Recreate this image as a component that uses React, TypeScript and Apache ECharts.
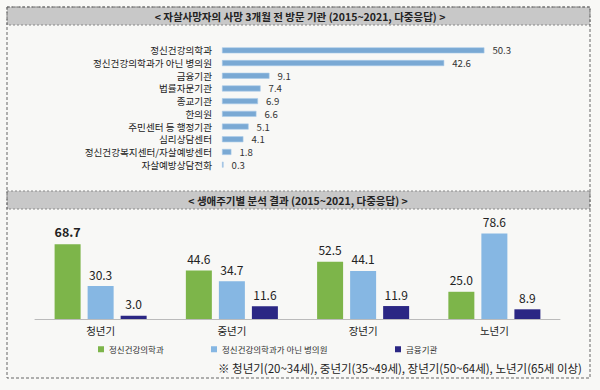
import React, { useEffect, useRef } from "react";
import * as echarts from "echarts";

const topTitle = "< 자살사망자의 사망 3개월 전 방문 기관 (2015~2021, 다중응답) >";
const bottomTitle = "< 생애주기별 분석 결과 (2015~2021, 다중응답) >";
const footnote = "※ 청년기(20~34세), 중년기(35~49세), 장년기(50~64세), 노년기(65세 이상)";

const institutions = [
  "정신건강의학과",
  "정신건강의학과가 아닌 병의원",
  "금융기관",
  "법률자문기관",
  "종교기관",
  "한의원",
  "주민센터 등 행정기관",
  "심리상담센터",
  "정신건강복지센터/자살예방센터",
  "자살예방상담전화",
];
const institutionValues = [50.3, 42.6, 9.1, 7.4, 6.9, 6.6, 5.1, 4.1, 1.8, 0.3];

const lifeStages = ["청년기", "중년기", "장년기", "노년기"];
const seriesNames = ["정신건강의학과", "정신건강의학과가 아닌 병의원", "금융기관"];
const psychiatry = [68.7, 44.6, 52.5, 25.0];
const otherClinics = [30.3, 34.7, 44.1, 78.6];
const financial = [3.0, 11.6, 11.9, 8.9];

const FONT = "'Noto Sans CJK KR', 'Noto Sans', sans-serif";
const colors = ["#7db54a", "#86b7e3", "#2b2784"];

export default function App() {
  const ref = useRef<HTMLDivElement>(null);
  useEffect(() => {
    if (!ref.current) return;
    const chart = echarts.init(ref.current, undefined, { renderer: "svg" });
    const barLabel = {
      show: true,
      position: "top" as const,
      distance: 6,
      color: "#222",
      fontSize: 12,
      fontFamily: FONT,
      formatter: (p: any) => Number(p.value).toFixed(1),
    };
    const withBoldFirst = (arr: number[]) =>
      arr.map((v, i) =>
        i === 0 ? { value: v, label: { fontWeight: "bold", fontSize: 12.5 } } : v
      );
    const legendBase = {
      top: 340,
      itemWidth: 6,
      itemHeight: 6,
      icon: "rect",
      textStyle: { fontSize: 8.5, color: "#333", fontFamily: FONT },
      itemGap: 3,
    };
    chart.setOption({
      animation: false,
      backgroundColor: "#f8f8f6",
      textStyle: { fontFamily: FONT },
      graphic: [
        {
          type: "rect",
          shape: { x: 7, y: 7, width: 583, height: 371 },
          style: { fill: "none", stroke: "#666", lineWidth: 1, lineDash: [3, 2] },
          z: 10,
        },
        {
          type: "rect",
          shape: { x: 7, y: 7, width: 583, height: 18 },
          style: { fill: "#c8c8c8", stroke: "#888", lineWidth: 1, lineDash: [2, 2] },
        },
        {
          type: "text",
          x: 300,
          y: 16,
          style: {
            text: topTitle,
            fontSize: 10.5,
            fontWeight: "bold",
            fill: "#222",
            fontFamily: FONT,
            align: "center",
            verticalAlign: "middle",
          },
        },
        {
          type: "rect",
          shape: { x: 7, y: 191, width: 583, height: 18 },
          style: { fill: "#c8c8c8", stroke: "#888", lineWidth: 1, lineDash: [2, 2] },
        },
        {
          type: "text",
          x: 298,
          y: 200,
          style: {
            text: bottomTitle,
            fontSize: 10.5,
            fontWeight: "bold",
            fill: "#222",
            fontFamily: FONT,
            align: "center",
            verticalAlign: "middle",
          },
        },
        {
          type: "text",
          x: 582,
          y: 368,
          style: {
            text: footnote,
            fontSize: 11.5,
            fill: "#222",
            fontFamily: FONT,
            align: "right",
            verticalAlign: "middle",
          },
        },
      ],
      grid: [
        { left: 222, width: 313, top: 44, height: 127, containLabel: false },
        { left: 35, right: 40, top: 221, bottom: 71, containLabel: false },
      ],
      xAxis: [
        {
          gridIndex: 0,
          type: "value",
          min: 0,
          max: 60,
          show: false,
          splitLine: { show: false },
        },
        {
          gridIndex: 1,
          type: "category",
          data: lifeStages,
          axisLine: { show: true, lineStyle: { color: "#bbb", width: 1 } },
          axisTick: { show: false },
          axisLabel: { color: "#222", fontSize: 10.5, fontFamily: FONT, margin: 6 },
        },
      ],
      yAxis: [
        {
          gridIndex: 0,
          type: "category",
          inverse: true,
          data: institutions,
          axisLine: { show: false },
          axisTick: { show: false },
          axisLabel: {
            color: "#222",
            fontSize: 9.6,
            lineHeight: 11,
            fontFamily: FONT,
            margin: 10,
            interval: 0,
          },
        },
        {
          gridIndex: 1,
          type: "value",
          min: 0,
          max: 90,
          show: false,
          splitLine: { show: false },
        },
      ],
      legend: [
        { ...legendBase, left: 93, data: [seriesNames[0]] },
        { ...legendBase, left: 206, data: [seriesNames[1]] },
        { ...legendBase, left: 390, data: [seriesNames[2]] },
      ],
      series: [
        {
          type: "bar",
          xAxisIndex: 0,
          yAxisIndex: 0,
          data: institutionValues,
          barWidth: 6,
          itemStyle: { color: "#7aa9d4", borderColor: "#a9cbe9", borderWidth: 0.6 },
          label: {
            show: true,
            position: "right",
            distance: 8,
            color: "#333",
            fontSize: 9.6,
            lineHeight: 11,
            fontFamily: FONT,
            formatter: (p: any) => Number(p.value).toFixed(1),
          },
        },
        {
          name: seriesNames[0],
          type: "bar",
          xAxisIndex: 1,
          yAxisIndex: 1,
          data: withBoldFirst(psychiatry),
          barWidth: 26,
          barGap: "27%",
          itemStyle: { color: colors[0] },
          label: barLabel,
        },
        {
          name: seriesNames[1],
          type: "bar",
          xAxisIndex: 1,
          yAxisIndex: 1,
          data: otherClinics,
          barWidth: 26,
          barGap: "27%",
          itemStyle: { color: colors[1] },
          label: barLabel,
        },
        {
          name: seriesNames[2],
          type: "bar",
          xAxisIndex: 1,
          yAxisIndex: 1,
          data: financial,
          barWidth: 26,
          barGap: "27%",
          itemStyle: { color: colors[2] },
          label: barLabel,
        },
      ],
    });
    return () => chart.dispose();
  }, []);
  return (
    <div
      ref={ref}
      style={{ position: "fixed", left: 0, top: 0, width: 600, height: 390 }}
    />
  );
}
